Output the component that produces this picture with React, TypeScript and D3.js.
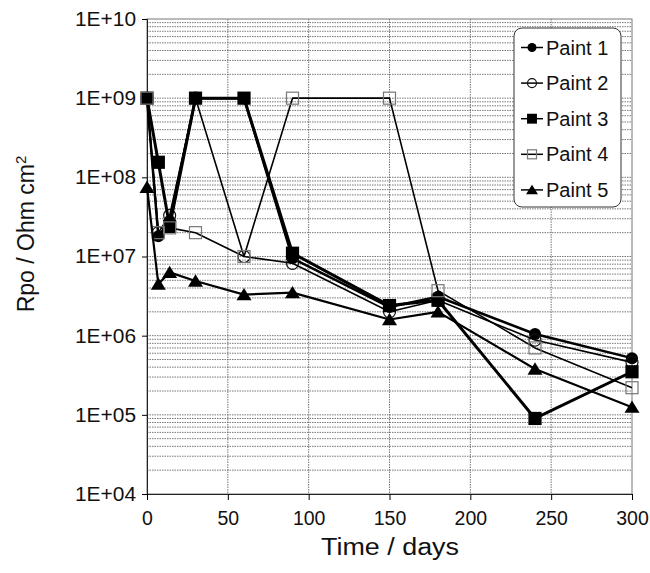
import { useEffect, useRef } from "react";
import * as d3 from "d3";

// Pore resistance vs exposure time, five paints (log scale).
const days = [0, 7, 14, 30, 60, 90, 150, 180, 240, 300];
const paint1 = [1e9, 1.8e7, 2.8e7, 1e9, 1e9, 9.5e6, 2.3e6, 3.1e6, 1.05e6, 5.2e5];
const paint2 = [1e9, 2e7, 3.3e7, 1e9, 1e7, 8.2e6, 2e6, 2.8e6, 8.8e5, 4.6e5];
const paint3 = [1e9, 1.55e8, 2.4e7, 1e9, 1e9, 1.1e7, 2.4e6, 2.8e6, 9e4, 3.5e5];
const paint4 = [1e9, 2e7, 2.3e7, 2e7, 1e7, 1e9, 1e9, 3.7e6, 7e5, 2.2e5];
const paint5 = [7.5e7, 4.5e6, 6.3e6, 4.9e6, 3.3e6, 3.5e6, 1.6e6, 2e6, 3.8e5, 1.25e5];
const seriesNames = ["Paint 1", "Paint 2", "Paint 3", "Paint 4", "Paint 5"];
const xTicks = [0, 50, 100, 150, 200, 250, 300];
const yTicks = [1e4, 1e5, 1e6, 1e7, 1e8, 1e9, 1e10];

const FONT = "'Liberation Sans', Arial, sans-serif";

type Marker = "circle" | "ocircle" | "square" | "osquare" | "triangle";
const markers: Marker[] = ["circle", "ocircle", "square", "osquare", "triangle"];
const lineWidths = [2.5, 1.6, 3, 1.6, 2.2];

function drawMarker(g: any, kind: Marker, x: number, y: number, s: number) {
  if (kind === "circle") {
    g.append("circle").attr("cx", x).attr("cy", y).attr("r", s / 2).attr("fill", "#000");
  } else if (kind === "ocircle") {
    g.append("circle").attr("cx", x).attr("cy", y).attr("r", s / 2)
      .attr("fill", "none").attr("stroke", "#111").attr("stroke-width", 1.2);
  } else if (kind === "square") {
    const q = s * 1.1;
    g.append("rect").attr("x", x - q / 2).attr("y", y - q / 2).attr("width", q).attr("height", q).attr("fill", "#000");
  } else if (kind === "osquare") {
    g.append("rect").attr("x", x - s / 2).attr("y", y - s / 2).attr("width", s).attr("height", s)
      .attr("fill", "none").attr("stroke", "#777").attr("stroke-width", 1.2);
  } else {
    const h = s * 0.95;
    g.append("path").attr("d", `M${x},${y - h / 2 - 1}L${x + s / 2 + 1.5},${y + h / 2}L${x - s / 2 - 1.5},${y + h / 2}Z`).attr("fill", "#000");
  }
}

export default function App() {
  const ref = useRef<SVGSVGElement>(null);

  useEffect(() => {
    const svg = d3.select(ref.current);
    svg.selectAll("*").remove();

    const left = 147, right = 632, top = 19, bottom = 494;
    const x = d3.scaleLinear().domain([0, 300]).range([left, right]);
    const y = d3.scaleLog().domain([1e4, 1e10]).range([bottom, top]);

    svg.append("rect").attr("width", 650).attr("height", 573).attr("fill", "#fff");

    // grid
    const grid = svg.append("g");
    const minor: number[] = [];
    for (let e = 4; e < 10; e++) for (let m = 1; m < 10; m++) minor.push(m * Math.pow(10, e));
    grid.selectAll("line.h").data(minor.slice(1)).join("line")
      .attr("x1", left).attr("x2", right).attr("y1", (d) => y(d)).attr("y2", (d) => y(d))
      .attr("stroke", "#555").attr("stroke-width", 0.8).attr("stroke-dasharray", "1.5,1");
    grid.selectAll("line.v").data(xTicks.slice(1, -1)).join("line")
      .attr("x1", (d) => x(d)).attr("x2", (d) => x(d)).attr("y1", top).attr("y2", bottom)
      .attr("stroke", "#555").attr("stroke-width", 0.8).attr("stroke-dasharray", "1.5,1");

    // frame
    svg.append("rect").attr("x", left).attr("y", top).attr("width", right - left).attr("height", bottom - top)
      .attr("fill", "none").attr("stroke", "#777").attr("stroke-width", 1);

    // axes
    const yAxis = svg.append("g").attr("transform", `translate(${left},0)`)
      .call(d3.axisLeft(y).tickValues(yTicks).tickSize(5).tickPadding(6)
        .tickFormat((d: any) => "1E+" + String(Math.round(Math.log10(d))).padStart(2, "0")));
    yAxis.select(".domain").attr("stroke", "#222");
    yAxis.selectAll("text").attr("font-family", FONT).attr("font-size", 20).attr("fill", "#111")
      .attr("textLength", 61).attr("lengthAdjust", "spacingAndGlyphs");

    const xAxis = svg.append("g").attr("transform", `translate(0,${bottom})`)
      .call(d3.axisBottom(x).tickValues(xTicks).tickSize(6).tickPadding(11));
    xAxis.select(".domain").attr("stroke", "#222");
    xAxis.selectAll("text").attr("font-family", FONT).attr("font-size", 19.5).attr("fill", "#111");

    // series
    const all = [paint1, paint2, paint3, paint4, paint5];
    const line = d3.line<number>().x((_, i) => x(days[i])).y((d) => y(d));
    all.forEach((vals, k) => {
      const g = svg.append("g");
      g.append("path").datum(vals).attr("d", line).attr("fill", "none")
        .attr("stroke", "#000").attr("stroke-width", lineWidths[k]).attr("stroke-linejoin", "round");
      vals.forEach((v, i) => drawMarker(g, markers[k], x(days[i]), y(v), 12));
    });

    // legend
    const lg = svg.append("g");
    lg.append("rect").attr("x", 514).attr("y", 28).attr("width", 107).attr("height", 179).attr("rx", 8)
      .attr("fill", "#fff").attr("stroke", "#333").attr("stroke-width", 1);
    seriesNames.forEach((name, k) => {
      const cy = 47.5 + k * 35.6;
      lg.append("line").attr("x1", 521).attr("x2", 543).attr("y1", cy).attr("y2", cy)
        .attr("stroke", "#000").attr("stroke-width", 1.5);
      drawMarker(lg, markers[k], 532, cy, 9);
      lg.append("text").attr("x", 546).attr("y", cy + 7).attr("font-family", FONT).attr("font-size", 20)
        .attr("fill", "#111").text(name);
    });

    // titles
    svg.append("text").attr("x", 390).attr("y", 555).attr("text-anchor", "middle")
      .attr("font-family", FONT).attr("font-size", 23).attr("fill", "#111")
      .attr("textLength", 138).attr("lengthAdjust", "spacingAndGlyphs").text("Time / days");
    const yt = svg.append("text").attr("transform", "translate(34,234) rotate(-90)").attr("text-anchor", "middle")
      .attr("font-family", FONT).attr("font-size", 23).attr("fill", "#111");
    yt.append("tspan").text("Rpo / Ohm cm");
    yt.append("tspan").attr("dy", -8).attr("font-size", 15).text("2");
  }, []);

  return <svg ref={ref} width={650} height={573} style={{ position: "absolute", left: 0, top: 0 }} />;
}
